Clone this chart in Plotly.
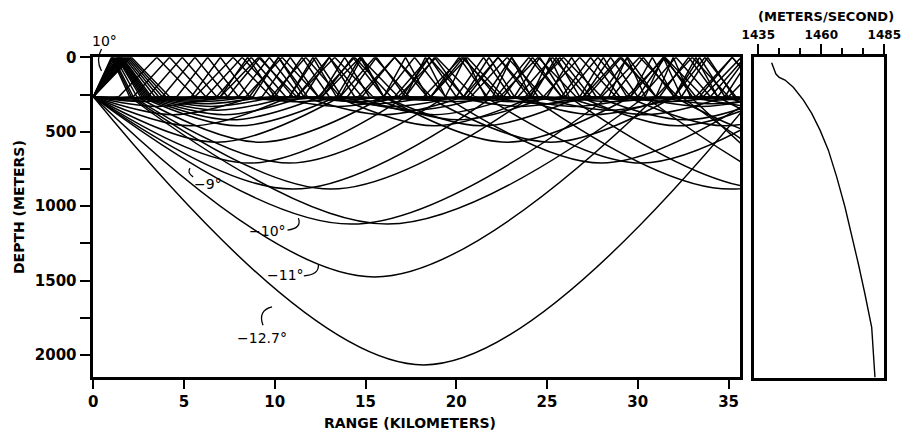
import plotly.graph_objects as go

W, H = 904, 437

# ---- sound-speed profile (right panel) ----
speed_mps = [1440.3, 1442.0, 1443.3, 1445.6, 1448.9, 1452.9, 1456.2, 1459.5,
             1462.8, 1466.1, 1469.4, 1472.0, 1474.7, 1477.3, 1480.0, 1481.3]
speed_depth_m = [36, 112, 134, 152, 201, 287, 376, 488,
                 622, 801, 1003, 1182, 1383, 1584, 1809, 2145]

# ---- ray fan ----
source_depth_m = 265
angle_key = [0.5, 1, 1.5, 2, 2.5, 3, 3.5, 4, 4.5, 5, 5.5, 6, 7, 8, 9, 10, 11, 12.7]
duct_run_km = [2.1, 2.0, 1.9, 1.8, 1.7, 1.6, 1.55, 1.5, 1.45, 1.4, 1.35, 1.3, 1.2, 1.1, 1.05, 1.0, 0.95, 0.9]
arc_half_km = [0.7, 1.1, 1.5, 1.9, 2.3, 2.7, 3.1, 3.5, 3.95, 4.4, 4.9, 5.4, 6.8, 8.6, 11.0, 14.2, 15.5, 18.2]
turn_depth_m = [267, 270, 274, 280, 288, 298, 312, 330, 355, 385, 420, 460, 570, 710, 885, 1120, 1475, 2066]
up_angles = [0.5, 1, 1.5, 2, 2.5, 3, 3.5, 4, 4.5, 5, 5.5, 6, 7, 8, 9, 10]
down_angles = [0.5, 1, 1.5, 2, 2.5, 3, 4, 5, 6, 7, 8, 9, 10, 11, 12.7]
layer_line_km = [0, 35.63]
layer_line_m = [272, 277]

range_ticks = [0, 5, 10, 15, 20, 25, 30, 35]
depth_ticks = [0, 500, 1000, 1500, 2000]
depth_minor = [250, 750, 1250, 1750]
speed_ticks = [1435, 1460, 1485]
speed_minor = [1443.33, 1451.67, 1468.33, 1476.67]

X_END = 38.0
arc_x, arc_y, v_x, v_y = [], [], [], []


def add_ray(idx, upward):
    s, h, d = duct_run_km[idx], arc_half_km[idx], turn_depth_m[idx]
    L = source_depth_m
    x = 0.0
    if upward:
        v_x.extend([0, s, 2 * s, None]); v_y.extend([L, 0, L, None])
        x = 2 * s
    while x < X_END:
        arc_x.extend([x, x + h, x + 2 * h, None]); arc_y.extend([L, d, L, None])
        x += 2 * h
        v_x.extend([x, x + s, x + 2 * s, None]); v_y.extend([L, 0, L, None])
        x += 2 * s


for a in up_angles:
    add_ray(angle_key.index(a), True)
for a in down_angles:
    add_ray(angle_key.index(a), False)

fig = go.Figure()
ray_line = dict(color="black", width=1.5)
fig.add_trace(go.Scatter(x=arc_x, y=arc_y, mode="lines",
                         line=dict(color="black", width=1.5, shape="spline", smoothing=1.0),
                         connectgaps=False, hoverinfo="skip", showlegend=False))
fig.add_trace(go.Scatter(x=v_x, y=v_y, mode="lines", line=ray_line,
                         connectgaps=False, hoverinfo="skip", showlegend=False))
fig.add_trace(go.Scatter(x=layer_line_km, y=layer_line_m, mode="lines", line=ray_line,
                         hoverinfo="skip", showlegend=False))
fig.add_trace(go.Scatter(x=speed_mps, y=speed_depth_m, mode="lines",
                         line=dict(color="black", width=1.4),
                         xaxis="x2", yaxis="y2", hoverinfo="skip", showlegend=False))

tick_font = dict(family="DejaVu Sans", size=15, color="black", weight="bold")
small_font = dict(family="DejaVu Sans", size=12, color="black", weight="bold")

fig.update_layout(
    width=W, height=H, margin=dict(l=0, r=0, t=0, b=0),
    paper_bgcolor="white", plot_bgcolor="white",
    xaxis=dict(domain=[93.3 / W, 740 / W], range=[0, 35.63], tickvals=range_ticks,
               ticks="outside", ticklen=10, tickwidth=2, tickcolor="black",
               showline=True, linewidth=2.5, linecolor="black", mirror=True, automargin=False,
               showgrid=False, zeroline=False, tickfont=tick_font, anchor="y"),
    yaxis=dict(domain=[1 - 376.7 / H, 1 - 57.3 / H], range=[2145, 0], tickvals=depth_ticks,
               ticks="outside", ticklen=11, tickwidth=2, tickcolor="black",
               minor=dict(tickvals=depth_minor, ticks="outside", ticklen=11, tickwidth=2, tickcolor="black"),
               showline=True, linewidth=2.5, linecolor="black", mirror=True, automargin=False,
               showgrid=False, zeroline=False, tickfont=tick_font, anchor="x"),
    xaxis2=dict(domain=[754 / W, 884.3 / W], range=[1433.3, 1485], side="top",
                tickvals=speed_ticks, ticks="outside", ticklen=11, tickwidth=2, tickcolor="black",
                minor=dict(tickvals=speed_minor, ticks="outside", ticklen=7, tickwidth=2, tickcolor="black"),
                showline=True, linewidth=2.5, linecolor="black", mirror=True, automargin=False,
                showgrid=False, zeroline=False, tickfont=small_font, anchor="y2"),
    yaxis2=dict(domain=[1 - 377.5 / H, 1 - 57.3 / H], range=[2145, 0], showticklabels=False,
                ticks="", showline=True, linewidth=2.5, linecolor="black", mirror=True, automargin=False,
                showgrid=False, zeroline=False, anchor="x2"),
)

label_font = dict(family="DejaVu Sans", size=14, color="black")
labels = [("−9°", 6.3, 848), ("−10°", 9.6, 1168),
          ("−11°", 10.6, 1462), ("−12.7°", 9.3, 1885)]
for txt, lx, ly in labels:
    fig.add_annotation(x=lx, y=ly, xref="x", yref="y", text=txt, showarrow=False,
                       xanchor="center", yanchor="middle", font=label_font)
# the 10° label sits above the frame, so place it in paper units
fig.add_annotation(x=104 / W, y=1 - 41 / H, xref="paper", yref="paper", text="10°",
                   showarrow=False, xanchor="center", yanchor="middle", font=label_font)
fig.add_shape(type="path", xref="paper", yref="paper",
              path=f"M {101.5 / W},{1 - 49 / H} Q {95.5 / W},{1 - 60 / H} {101.5 / W},{1 - 71 / H}",
              line=dict(color="black", width=1.3))

leaders = ["M 5.5,803 Q 5.15,775 5.33,745",
           "M 10.7,1160 Q 11.5,1150 11.3,1080",
           "M 11.6,1468 Q 12.45,1460 12.4,1394",
           "M 9.35,1800 Q 9.05,1700 9.85,1676"]
for p in leaders:
    fig.add_shape(type="path", path=p, xref="x", yref="y",
                  line=dict(color="black", width=1.3))

title_font = dict(family="DejaVu Sans", size=14, color="black", weight="bold")
fig.add_annotation(x=410 / W, y=1 - 423 / H, xref="paper", yref="paper",
                   text="RANGE (KILOMETERS)", showarrow=False,
                   xanchor="center", yanchor="middle", font=title_font)
fig.add_annotation(x=19 / W, y=1 - 207 / H, xref="paper", yref="paper",
                   text="DEPTH (METERS)", showarrow=False, textangle=-90,
                   xanchor="center", yanchor="middle", font=title_font)
fig.add_annotation(x=826 / W, y=1 - 17 / H, xref="paper", yref="paper",
                   text="(METERS/SECOND)", showarrow=False,
                   xanchor="center", yanchor="middle",
                   font=dict(family="DejaVu Sans", size=13, color="black", weight="bold"))

fig.write_html("out.html", config={"displayModeBar": False},
               post_script="document.body.style.margin='0';")
